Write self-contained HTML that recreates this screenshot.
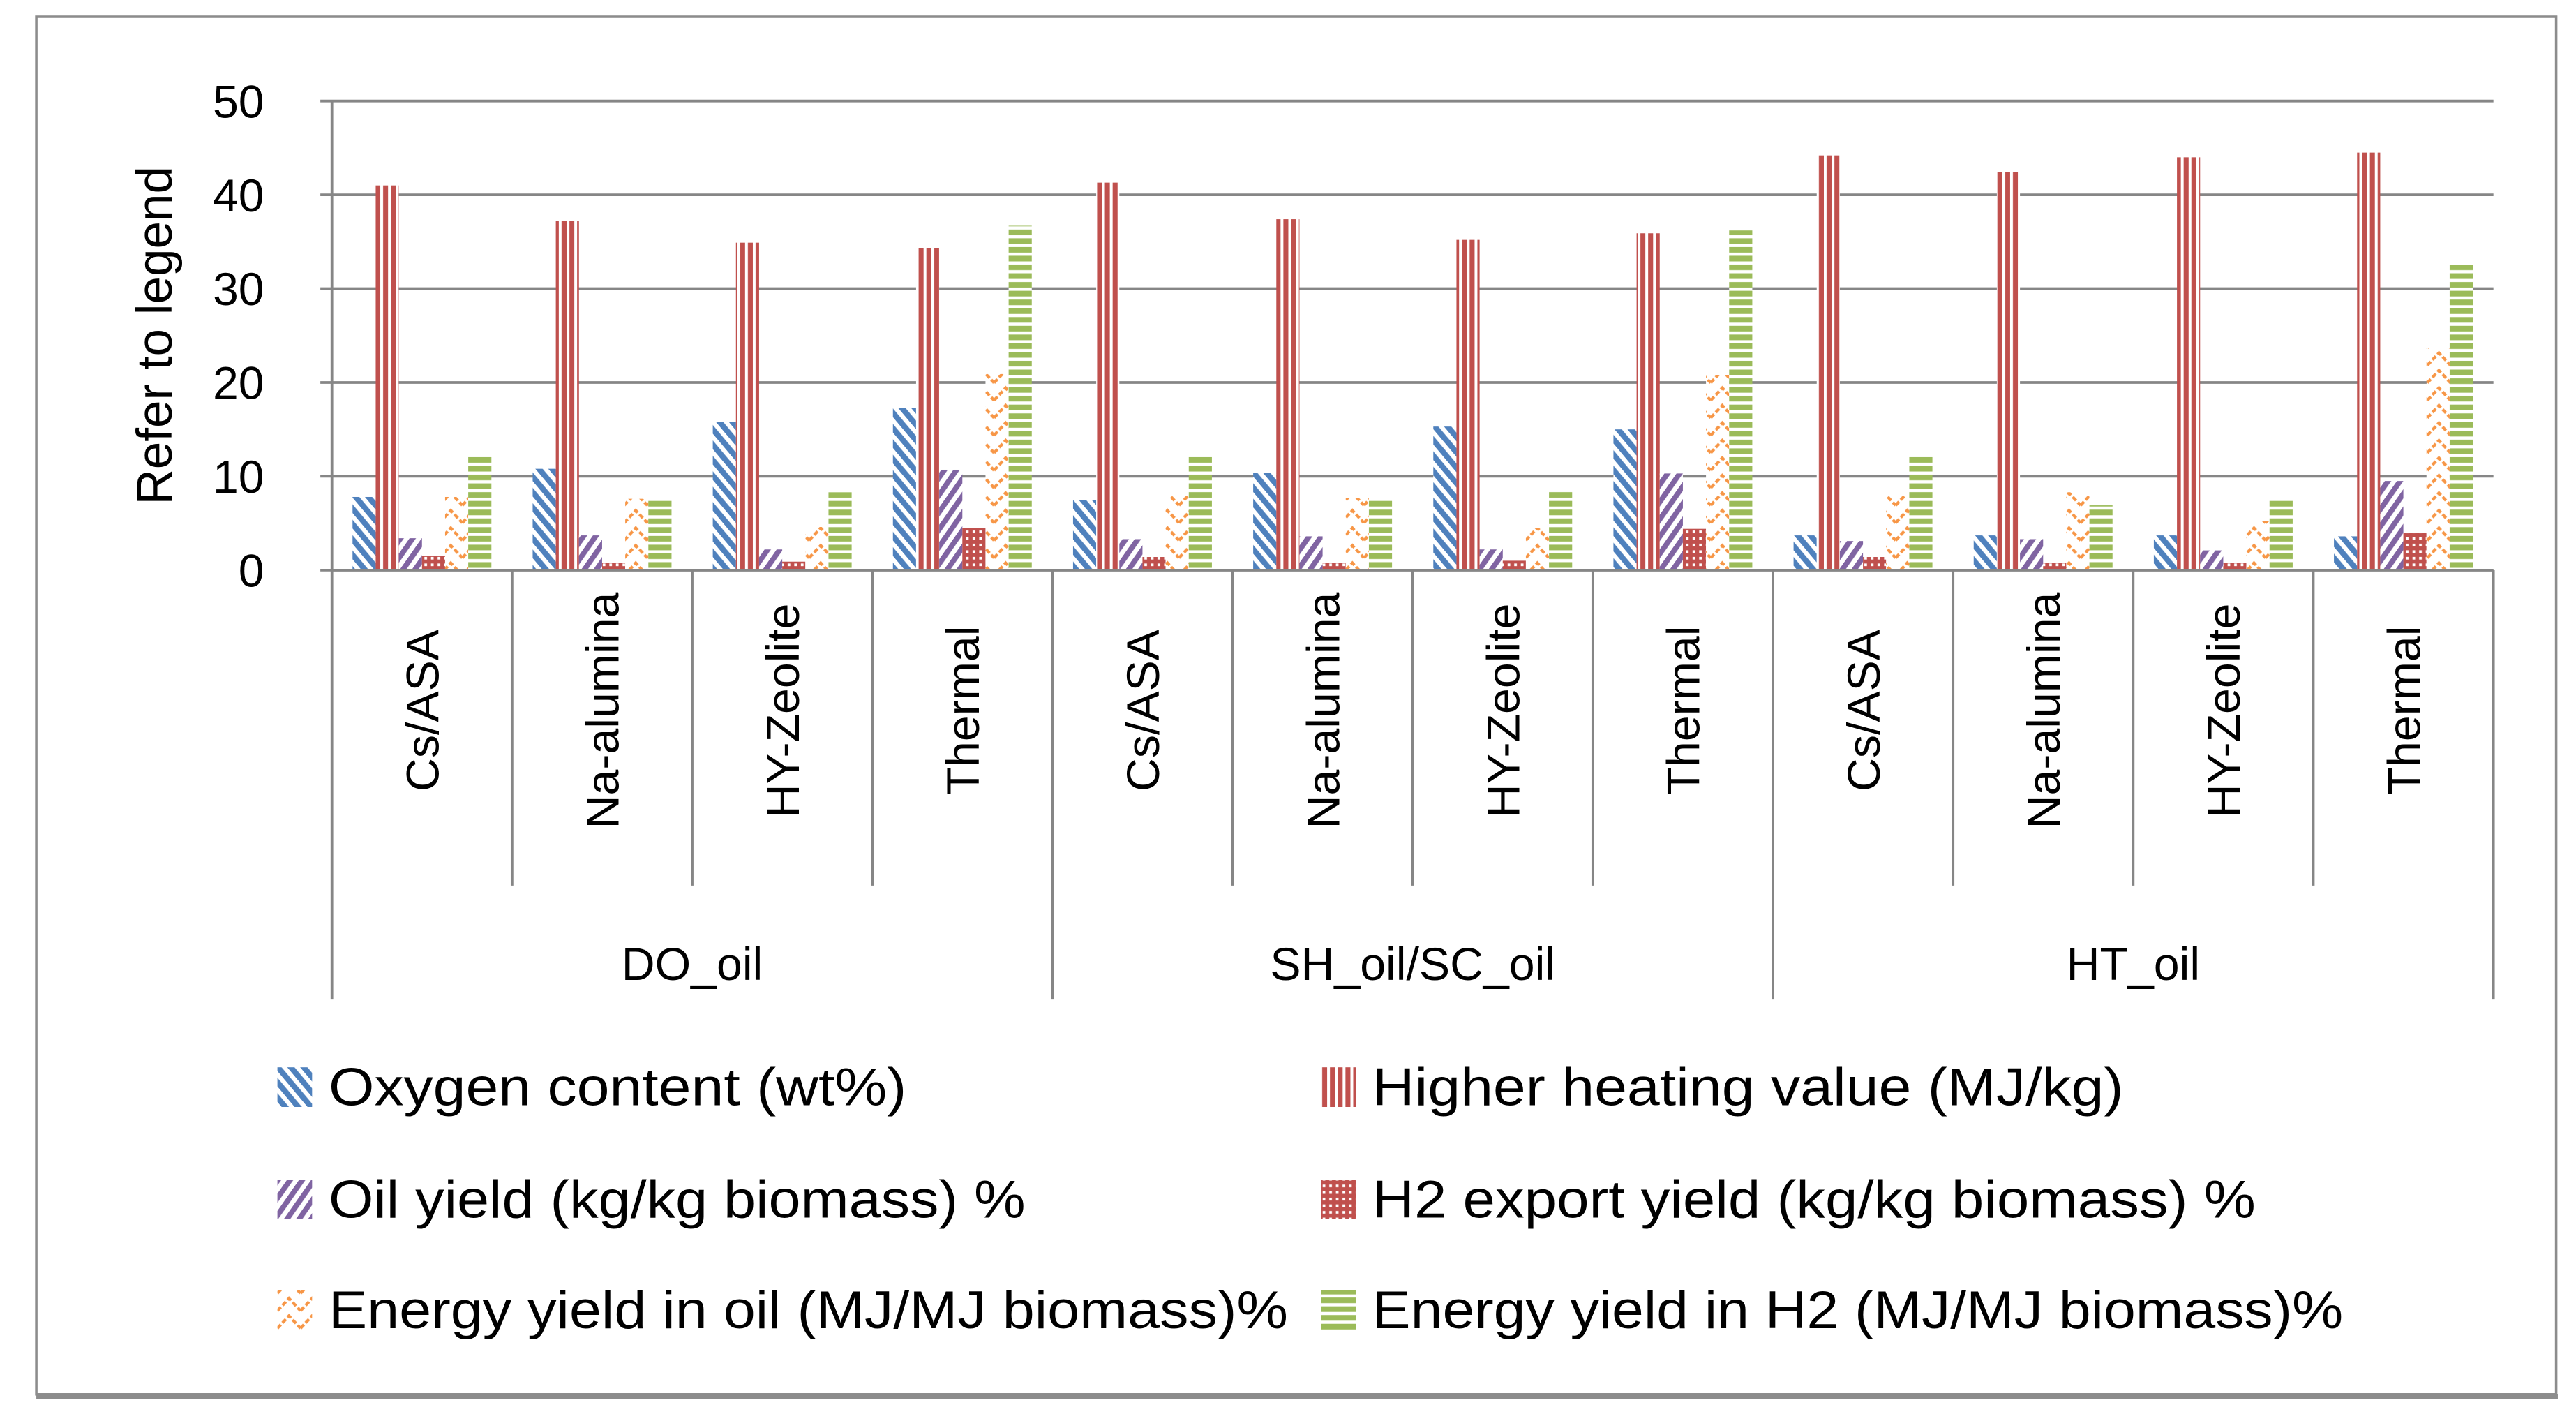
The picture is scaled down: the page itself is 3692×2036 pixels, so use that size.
<!DOCTYPE html>
<html><head><meta charset="utf-8"><style>
html,body{margin:0;padding:0;background:#fff;}
svg{display:block;}
text{font-family:"Liberation Sans",sans-serif;fill:#000;}
</style></head><body>
<svg id="chart" width="3692" height="2036" viewBox="0 0 1560 860" xmlns="http://www.w3.org/2000/svg">
<defs>
<pattern id="pBlue" patternUnits="userSpaceOnUse" width="6" height="6" patternTransform="rotate(-40)">
<rect width="6" height="6" fill="#fff"/><rect width="3.4" height="6" fill="#4f81bd"/></pattern>
<pattern id="pRedV" patternUnits="userSpaceOnUse" width="4.7" height="10">
<rect width="4.7" height="10" fill="#fff"/><rect x="1.7" width="3" height="10" fill="#c0504d"/></pattern>
<pattern id="pPurple" patternUnits="userSpaceOnUse" width="6" height="6" patternTransform="rotate(35)">
<rect width="6" height="6" fill="#fff"/><rect width="3.2" height="6" fill="#8064a2"/></pattern>
<pattern id="pCheck" patternUnits="userSpaceOnUse" width="4" height="4">
<rect width="4" height="4" fill="#c0504d"/><rect x="1" y="1" width="1.6" height="1.6" fill="#fff"/></pattern>
<pattern id="pOrange" patternUnits="userSpaceOnUse" width="14" height="10.6">
<rect width="14" height="10.6" fill="#fff"/><path d="M0,9 L7,1.5 L14,9" fill="none" stroke="#f79646" stroke-width="1.8" stroke-dasharray="3,1.5"/></pattern>
<pattern id="pGreen" patternUnits="userSpaceOnUse" width="10" height="5.3">
<rect width="10" height="5.3" fill="#fff"/><rect y="1" width="10" height="3.4" fill="#9bbb59"/></pattern>
</defs>
<rect x="22" y="10" width="1526" height="834" fill="#fff" stroke="#8c8c8c" stroke-width="1.5"/>
<line x1="22" y1="845.5" x2="1549" y2="845.5" stroke="#8c8c8c" stroke-width="3"/>
<g id="grid"></g>
<g id="bars"></g>
<g id="axes"></g>
<text transform="translate(104,203) rotate(-90)" text-anchor="middle" font-size="30">Refer to legend</text>
<g id="legend"></g>
</svg>
<script>
const groups = ["DO_oil", "SH_oil/SC_oil", "HT_oil"];
const categories = ["Cs/ASA", "Na-alumina", "HY-Zeolite", "Thermal", "Cs/ASA", "Na-alumina", "HY-Zeolite", "Thermal", "Cs/ASA", "Na-alumina", "HY-Zeolite", "Thermal"];
const yTicks = [0, 10, 20, 30, 40, 50];
const seriesNames = ["Oxygen content (wt%)", "Higher heating value (MJ/kg)", "Oil yield (kg/kg biomass) %", "H2 export yield (kg/kg biomass) %", "Energy yield in oil (MJ/MJ biomass)%", "Energy yield in H2 (MJ/MJ biomass)%"];
const oxygen = [7.8, 10.8, 15.8, 17.3, 7.5, 10.4, 15.3, 15.0, 3.7, 3.7, 3.7, 3.6];
const hhv = [41.0, 37.2, 34.9, 34.3, 41.3, 37.4, 35.2, 35.9, 44.2, 42.4, 44.0, 44.5];
const oilYield = [3.4, 3.7, 2.2, 10.7, 3.3, 3.6, 2.2, 10.3, 3.1, 3.3, 2.1, 9.5];
const h2Yield = [1.5, 0.8, 0.9, 4.5, 1.4, 0.8, 1.0, 4.4, 1.4, 0.8, 0.8, 4.0];
const energyOil = [7.8, 7.6, 4.6, 20.9, 7.9, 7.7, 4.5, 20.8, 7.9, 8.3, 5.2, 23.7];
const energyH2 = [12.2, 7.4, 8.3, 36.7, 12.1, 7.4, 8.4, 36.2, 12.1, 6.9, 7.4, 32.5];

const NS = "http://www.w3.org/2000/svg";
const X0 = 201, X1 = 1510, Y0 = 345, Y1 = 61, YMAX = 50;
const catW = (X1 - X0) / categories.length;
const y = v => Y0 - (v / YMAX) * (Y0 - Y1);
const seriesData = [oxygen, hhv, oilYield, h2Yield, energyOil, energyH2];
const fills = ["url(#pBlue)", "url(#pRedV)", "url(#pPurple)", "url(#pCheck)", "url(#pOrange)", "url(#pGreen)"];
const seriesKeys = ["oxygen", "hhv", "oil-yield", "h2-yield", "energy-oil", "energy-h2"];
function mk(tag, attrs, parent) { const e = document.createElementNS(NS, tag); for (const k in attrs) e.setAttribute(k, attrs[k]); parent.appendChild(e); return e; }
const grid = document.getElementById('grid'), bars = document.getElementById('bars'), axes = document.getElementById('axes'), legend = document.getElementById('legend');

yTicks.forEach(t => {
  const yy = y(t);
  const gl = mk('line', {x1: X0 - 7, x2: X1, y1: yy, y2: yy, stroke: '#868686', 'stroke-width': 1.6}, grid);
  
  
  const tl = mk('text', {x: 160, y: yy + 10, 'text-anchor': 'end', 'font-size': 28}, axes);
  tl.textContent = t;
  
  
});
const ya = mk('line', {x1: X0, x2: X0, y1: Y1, y2: Y0, stroke: '#868686', 'stroke-width': 1.6}, axes);



const pad = 12.5, bw = (catW - 2 * pad) / 6;
categories.forEach((c, i) => {
  const cx = X0 + i * catW;
  seriesData.forEach((arr, s) => {
    const top = y(arr[i]);
    const r = mk('rect', {x: cx + pad + s * bw, y: top, width: bw, height: Y0 - top, fill: fills[s]}, bars);
    
    
  });
  const lab = mk('text', {transform: 'translate(' + (cx + catW / 2 + 10) + ',430) rotate(-90)', 'text-anchor': 'middle', 'font-size': 28}, axes);
  lab.textContent = c;
  
  
});
const xa = mk('line', {x1: X0, x2: X1, y1: Y0, y2: Y0, stroke: '#868686', 'stroke-width': 1.6}, axes);


for (let i = 0; i <= categories.length; i++) {
  const xx = X0 + i * catW;
  const long = i % 4 === 0;
  const tk = mk('line', {x1: xx, x2: xx, y1: Y0, y2: long ? 605 : 536, stroke: '#868686', 'stroke-width': 1.6}, axes);
  
  
}
groups.forEach((g, i) => {
  const gx = X0 + (i * 4 + 2) * catW;
  const gt = mk('text', {x: gx, y: 593, 'text-anchor': 'middle', 'font-size': 28}, axes);
  gt.textContent = g;
  
  
});

const legPos = [[168, 658], [800, 658], [168, 726], [800, 726], [168, 793], [800, 793]];
const legLen = [350, 455, 422, 535, 581, 588];
seriesNames.forEach((n, s) => {
  const [lx, ly] = legPos[s];
  const g = mk('g', {}, legend);
  
  
  mk('rect', {x: lx, y: ly - 12, width: 21, height: 24, fill: fills[s]}, g);
  const t = mk('text', {x: lx + 31, y: ly + 11, 'font-size': 32, textLength: legLen[s], lengthAdjust: 'spacingAndGlyphs'}, g);
  t.textContent = n;
});
</script>
</body></html>
